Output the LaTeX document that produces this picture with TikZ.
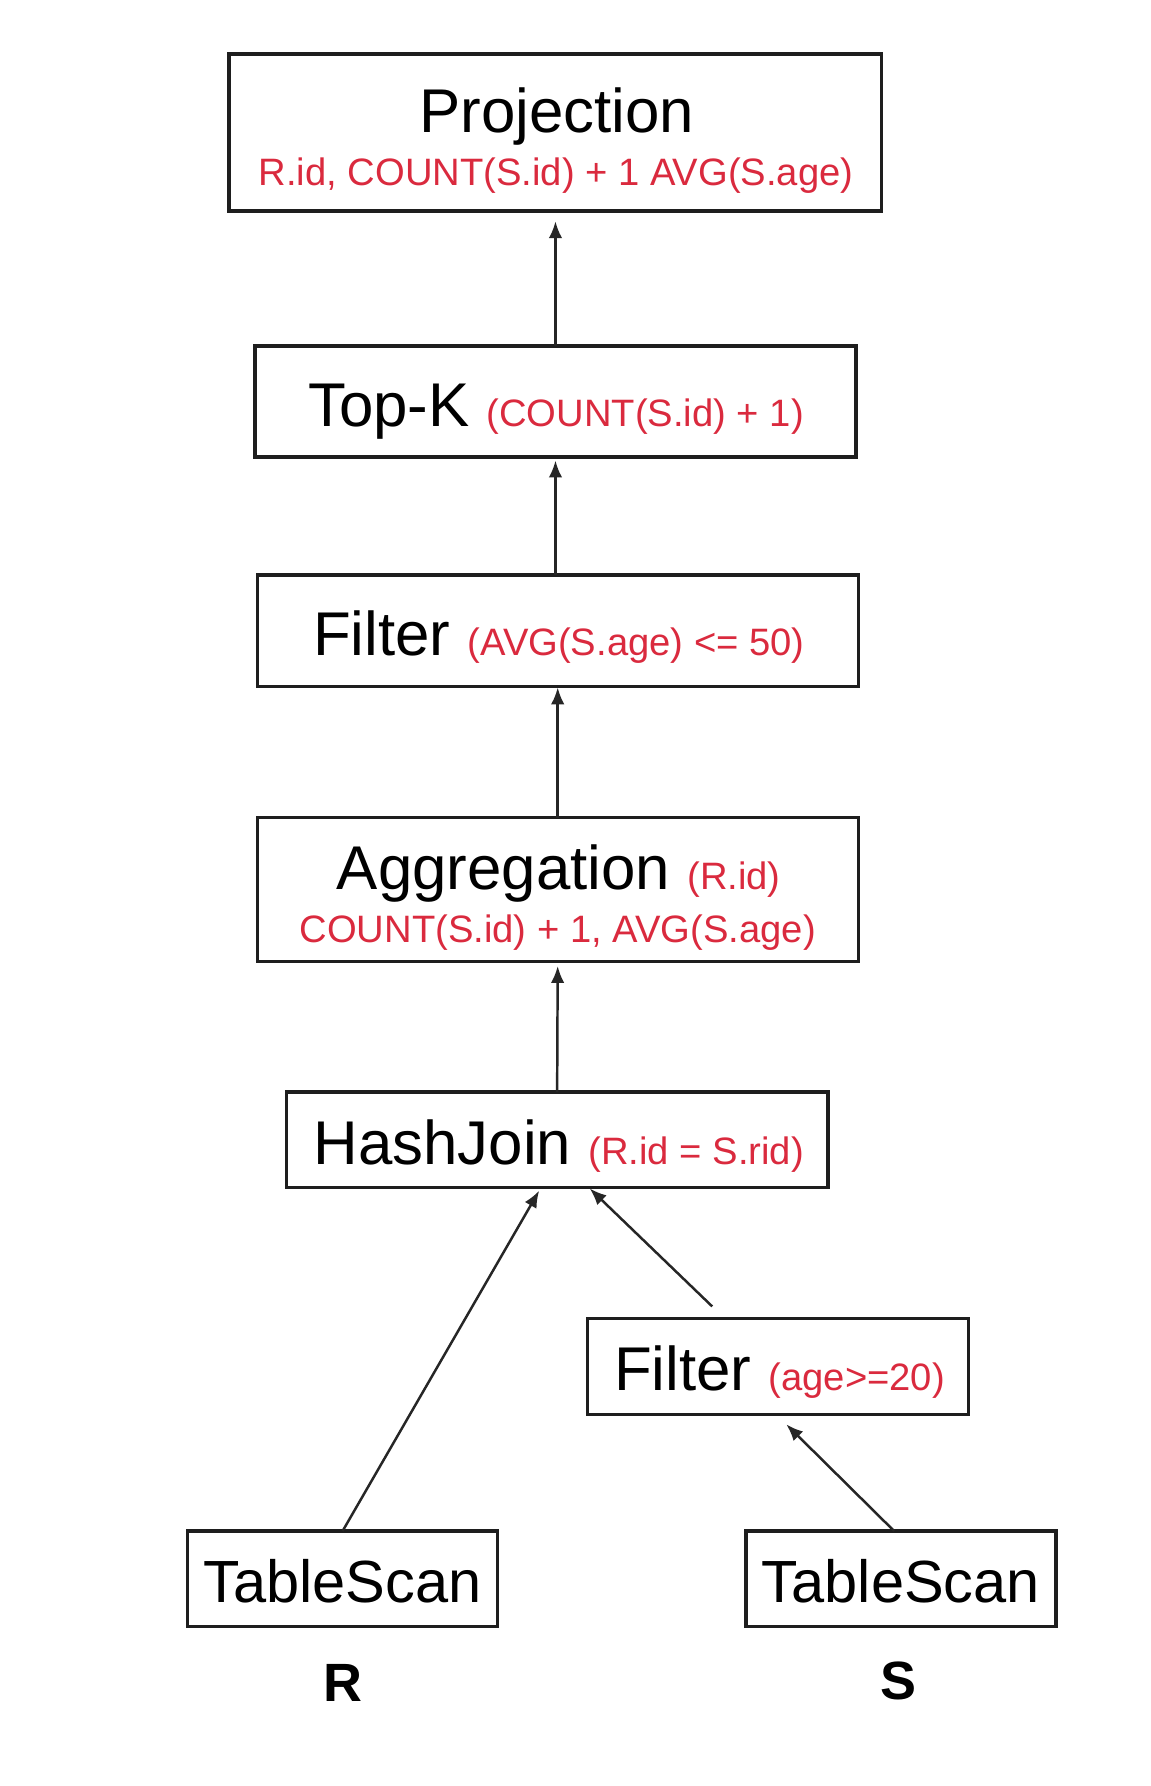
\documentclass[tikz,border=0pt]{standalone}
\usepackage{fontspec}
\setmainfont{Liberation Sans}
\usetikzlibrary{arrows.meta,calc}
\definecolor{opred}{RGB}{218,42,62}
\definecolor{boxline}{RGB}{30,30,30}
\newcommand{\bigtxt}{\fontsize{55}{60}\selectfont}
\newcommand{\smtxt}{\fontsize{34}{38}\selectfont\color{opred}}
\tikzset{
  opbox/.style={draw=boxline, line width=3pt, fill=none, inner sep=0pt, outer sep=0pt},
  lbl/.style={inner sep=0pt, outer sep=0pt, anchor=base},
  arr/.style={draw=black!85, line width=2.2pt, -{Latex[length=15pt,width=12pt]}}
}
\begin{document}
\begin{tikzpicture}[x=1pt,y=-1pt]
\useasboundingbox (0,0) rectangle (1024,1590);
\fill[white] (0,0) rectangle (1024,1590);
% boxes
\node[opbox, minimum width=581pt, minimum height=140pt] (proj) at (494.5,118) {};
\node[opbox, minimum width=535pt, minimum height=99pt] (topk) at (494.5,357.5) {};
\node[opbox, minimum width=535pt, minimum height=99pt] (filt) at (496.5,561.5) {};
\node[opbox, minimum width=535pt, minimum height=128pt] (aggr) at (496.5,792) {};
\node[opbox, minimum width=482pt, minimum height=85pt] (hj) at (496,1014.5) {};
\node[opbox, minimum width=339pt, minimum height=85pt] (fa) at (692.5,1216.5) {};
\node[opbox, minimum width=276pt, minimum height=85pt] (tsr) at (305,1405.5) {};
\node[opbox, minimum width=276pt, minimum height=85pt] (tss) at (802,1405.5) {};
% texts
\node[lbl] (projt) at (495.5,118) {\bigtxt Projection};
\node[lbl] (projs) at (495,165) {\smtxt R.id, COUNT(S.id) + 1 AVG(S.age)};
\node[lbl] (topkt) at (495,380) {\bigtxt Top-K {\smtxt (COUNT(S.id) + 1)}};
\node[lbl] (filtt) at (497.5,584) {\bigtxt Filter {\smtxt (AVG(S.age) <= 50)}};
\node[lbl] (aggrt) at (497.5,792) {\bigtxt Aggregation {\smtxt (R.id)}};
\node[lbl] (aggrs) at (496.5,839) {\smtxt COUNT(S.id) + 1, AVG(S.age)};
\node[lbl] (hjt) at (497.5,1037) {\bigtxt HashJoin {\smtxt (R.id = S.rid)}};
\node[lbl] (fat) at (694,1238) {\bigtxt Filter {\smtxt (age>=20)}};
\node[lbl] (tsrt) at (305,1427) {\fontsize{53}{58}\selectfont TableScan};
\node[lbl] (tsst) at (802,1427) {\fontsize{53}{58}\selectfont TableScan};
\node[lbl] (rlab) at (305,1515) {\fontsize{48}{52}\selectfont\bfseries R};
\node[lbl] (slab) at (800,1513) {\fontsize{48}{52}\selectfont\bfseries S};
% connectors
\draw[arr] (topk.north) -- ($(proj.south)+(0,9)$);
\draw[arr] (filt.north -| topk.south) -- ($(topk.south)+(0,3)$);
\draw[arr] (aggr.north) -- ($(filt.south)+(0,1)$);
\draw[arr] (hj.north) -- ($(aggr.south)+(0,4)$);
\draw[arr] (tsr.north) -- ($(hj.south)+(-16,3)$);
\draw[arr] ($(fa.north)+(-58.5,-11)$) -- ($(hj.south)+(29,1)$);
\draw[arr] ($(tss.north)+(-6,0)$) -- ($(fa.south)+(7.5,9)$);
\end{tikzpicture}
\end{document}
